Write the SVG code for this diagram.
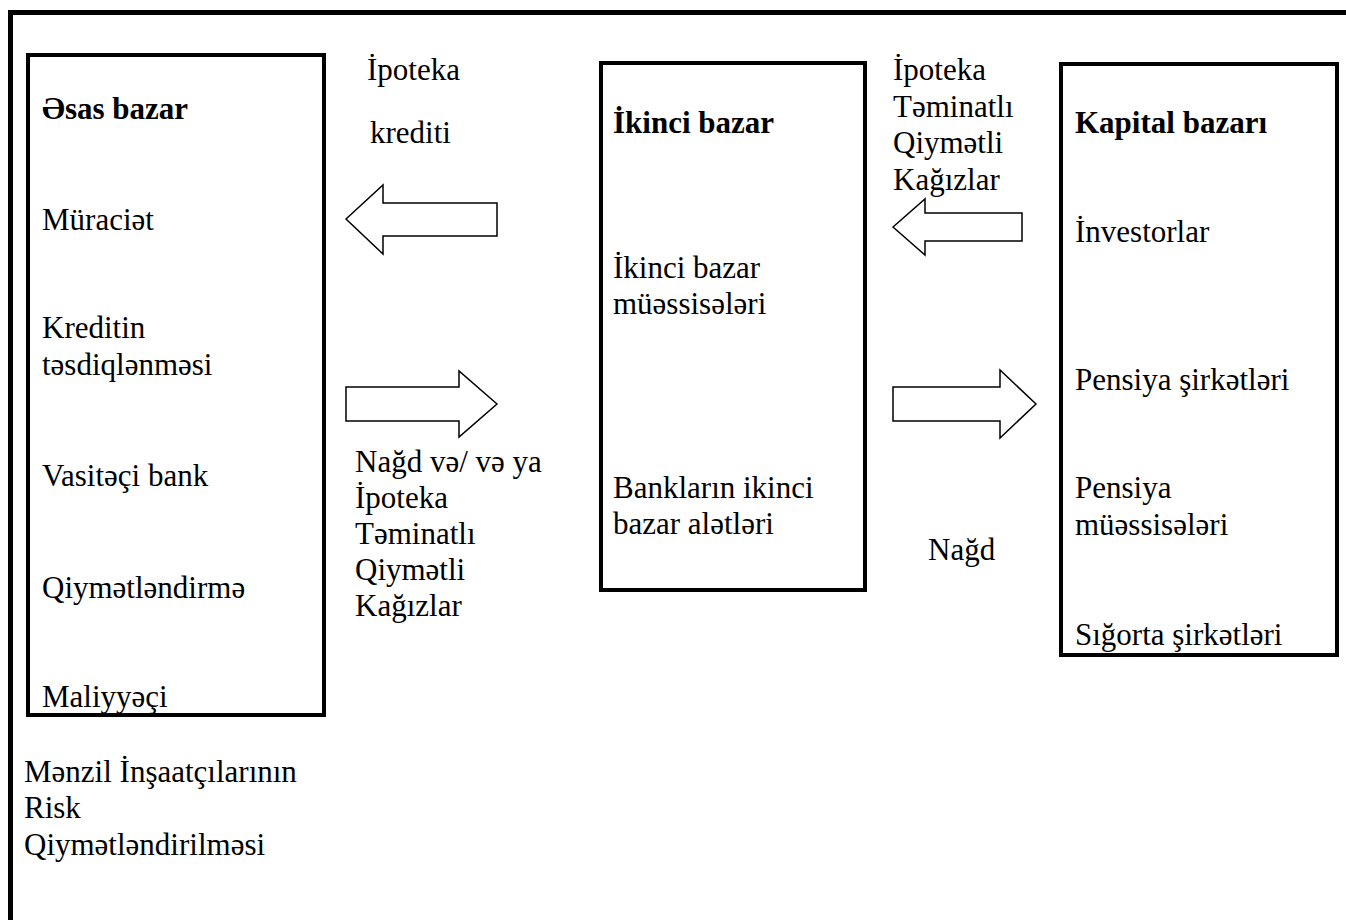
<svg xmlns="http://www.w3.org/2000/svg" width="1346" height="920" viewBox="0 0 1346 920">
<style>
text{font-family:"Liberation Serif","Times New Roman",serif;font-size:31px;fill:#000}
.b{font-weight:bold}
.box{fill:none;stroke:#000;stroke-width:4}
.arr{fill:#fff;stroke:#000;stroke-width:1.5;stroke-linejoin:miter}
</style>
<rect width="1346" height="920" fill="#fff"/>
<g id="frame">
<line x1="10.5" y1="12.5" x2="1346" y2="12.5" stroke="#000" stroke-width="5"/>
<line x1="10.5" y1="10" x2="10.5" y2="920" stroke="#000" stroke-width="5"/>
</g>
<g id="node-esas">
<rect class="box" x="28" y="55" width="296" height="660"/>
<text class="b" x="42" y="119">Əsas bazar</text>
<text x="42" y="230">Müraciət</text>
<text x="42" y="338">Kreditin</text>
<text x="42" y="375">təsdiqlənməsi</text>
<text x="42" y="486">Vasitəçi bank</text>
<text x="42" y="598">Qiymətləndirmə</text>
<text x="42" y="707">Maliyyəçi</text>
</g>
<g id="node-risk">
<text x="24" y="782">Mənzil İnşaatçılarının</text>
<text x="24" y="818">Risk</text>
<text x="24" y="855">Qiymətləndirilməsi</text>
</g>
<g id="node-ikinci">
<rect class="box" x="601" y="63" width="264" height="527"/>
<text class="b" x="613" y="133">İkinci bazar</text>
<text x="613" y="278">İkinci bazar</text>
<text x="613" y="314">müəssisələri</text>
<text x="613" y="498">Bankların ikinci</text>
<text x="613" y="534">bazar alətləri</text>
</g>
<g id="node-kapital">
<rect class="box" x="1061" y="64" width="276" height="591"/>
<text class="b" x="1075" y="133">Kapital bazarı</text>
<text x="1075" y="242">İnvestorlar</text>
<text x="1075" y="390">Pensiya şirkətləri</text>
<text x="1075" y="498">Pensiya</text>
<text x="1075" y="535">müəssisələri</text>
<text x="1075" y="645">Sığorta şirkətləri</text>
</g>
<g id="connectors">
<polygon class="arr" points="346,219 383,185 383,203 497,203 497,236 383,236 383,254"/>
<polygon class="arr" points="497,404 459,371 459,387 346,387 346,421 459,421 459,437"/>
<polygon class="arr" points="893,227 925,199 925,213 1022,213 1022,241 925,241 925,255"/>
<polygon class="arr" points="1036,404 1000,370 1000,387 893,387 893,421 1000,421 1000,438"/>
<text x="367" y="80">İpoteka</text>
<text x="370" y="143">krediti</text>
<text x="355" y="472">Nağd və/ və ya</text>
<text x="355" y="508">İpoteka</text>
<text x="355" y="544">Təminatlı</text>
<text x="355" y="580">Qiymətli</text>
<text x="355" y="616">Kağızlar</text>
<text x="893" y="80">İpoteka</text>
<text x="893" y="117">Təminatlı</text>
<text x="893" y="153">Qiymətli</text>
<text x="893" y="190">Kağızlar</text>
<text x="928" y="560">Nağd</text>
</g>
</svg>
